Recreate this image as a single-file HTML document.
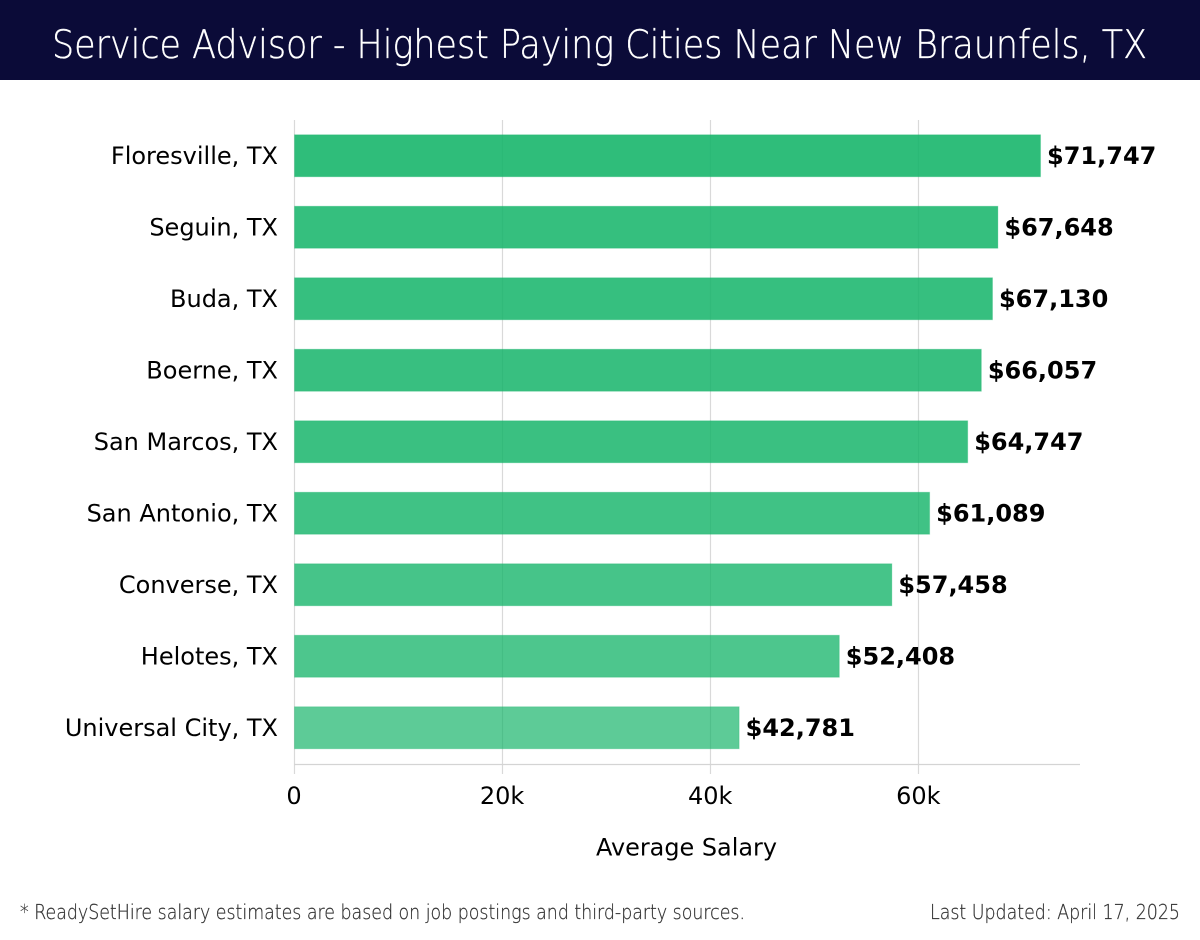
<!DOCTYPE html>
<html lang="en">
<head>
<meta charset="utf-8">
<title>Service Advisor - Highest Paying Cities Near New Braunfels, TX</title>
<style>
  html, body { margin: 0; padding: 0; background: #fff; }
  body { width: 1200px; height: 940px; overflow: hidden; position: relative; }
  svg { display: block; position: absolute; left: 0; top: 0; }
  text { font-family: "DejaVu Sans", "Liberation Sans", sans-serif; }
</style>
</head>
<body>
<svg id="chart" width="1200" height="940" viewBox="0 0 1200 940" xmlns="http://www.w3.org/2000/svg">
  <rect x="0" y="0" width="1200" height="80" fill="#0b0b38"></rect>
  <text x="52" y="58" font-size="39" font-weight="200" fill="#ffffff" stroke="#ffffff" stroke-width="0.35" textLength="1095" lengthAdjust="spacingAndGlyphs">Service Advisor - Highest Paying Cities Near New Braunfels, TX</text>
  <text x="686.5" y="855.5" font-size="24" fill="#000000" text-anchor="middle" textLength="181" lengthAdjust="spacingAndGlyphs">Average Salary</text>
  <text x="20" y="919" font-size="20" font-weight="200" fill="#333333" stroke="#333333" stroke-width="0.25" textLength="725" lengthAdjust="spacingAndGlyphs">* ReadySetHire salary estimates are based on job postings and third-party sources.</text>
  <text x="1180" y="919" font-size="20" font-weight="200" fill="#333333" stroke="#333333" stroke-width="0.25" text-anchor="end" textLength="250" lengthAdjust="spacingAndGlyphs">Last Updated: April 17, 2025</text>
</svg>
<script>
const cities = ["Floresville, TX", "Seguin, TX", "Buda, TX", "Boerne, TX", "San Marcos, TX", "San Antonio, TX", "Converse, TX", "Helotes, TX", "Universal City, TX"];
const salaries = [71747, 67648, 67130, 66057, 64747, 61089, 57458, 52408, 42781];
const xTicks = [0, 20000, 40000, 60000];
const xTickLabels = ["0", "20k", "40k", "60k"];
const xDomainMax = 75540;

const NS = "http://www.w3.org/2000/svg";
const svg = document.getElementById("chart");
const plot = { left: 294, right: 1080, top: 120, bottom: 764.5, bandBottom: 763.5 };

function xScale(v) {
  return plot.left + (v / xDomainMax) * (plot.right - plot.left);
}
function yBand(i) {
  const step = (plot.bandBottom - plot.top) / cities.length;
  return plot.top + step * (i + 0.5);
}
function make(tag, attrs) {
  const el = document.createElementNS(NS, tag);
  for (const k in attrs) el.setAttribute(k, attrs[k]);
  svg.appendChild(el);
  return el;
}

// gridlines and ticks
xTicks.forEach(function (t, i) {
  const x = Math.round(xScale(t)) + 0.5;
  const grid = make("line", { x1: x, x2: x, y1: plot.top, y2: 774, stroke: "#d9d9d9", "stroke-width": 1.2 });
  
  
  const label = make("text", { x: xScale(t), y: 804, "font-size": 24, fill: "#000", "text-anchor": "middle" });
  label.textContent = xTickLabels[i];
  
  
});

// x axis line
const xAxis = make("line", { x1: plot.left, x2: plot.right, y1: plot.bottom, y2: plot.bottom, stroke: "#d4d4d4", "stroke-width": 1.2 });



// bars and labels
const barHeight = 42;
const topSalary = Math.max.apply(null, salaries);
cities.forEach(function (city, i) {
  const cy = yBand(i);
  const x1 = xScale(salaries[i]);
  const bar = make("rect", {
    x: plot.left + 0.5, y: cy - barHeight / 2, width: x1 - plot.left - 0.5, height: barHeight,
    fill: "#14b469", "fill-opacity": 0.885 - (topSalary - salaries[i]) * 0.0000067,
    stroke: "#14b469", "stroke-opacity": 0.25, "stroke-width": 1
  });
  
  

  const cat = make("text", { x: 278, y: cy + 8, "font-size": 24, fill: "#000", "text-anchor": "end" });
  cat.textContent = city;
  
  

  const val = make("text", { x: x1 + 6.5, y: cy + 8, "font-size": 24, "font-weight": "bold", fill: "#000" });
  val.textContent = "$" + salaries[i].toLocaleString("en-US");
  
  
});
</script>
</body>
</html>
